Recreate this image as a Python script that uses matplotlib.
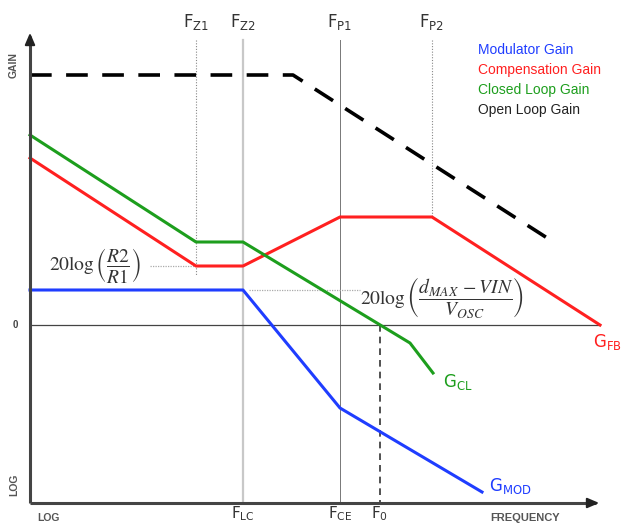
import numpy as np
import matplotlib
matplotlib.use("Agg")
import matplotlib.pyplot as plt

# frequency positions (log-scale units along the x axis) and gains (arbitrary dB units)
f_z1, f_z2, f_p1, f_p2 = 166, 213, 310, 402
f_lc, f_ce, f_0 = 213, 310, 350

open_x = [0, 263, 525]
open_gain = [250, 250, 82]

closed_x = [0, 166, 213, 380, 403]
closed_gain = [190, 83, 83, -18, -48]

comp_x = [0, 166, 213, 310, 402, 570]
comp_gain = [167, 59, 59, 108, 108, 0]

mod_x = [0, 213, 310, 452]
mod_gain = [35, 35, -83, -167]

legend_labels = ["Modulator Gain", "Compensation Gain", "Closed Loop Gain", "Open Loop Gain"]

BLUE = "#1f3dff"
RED = "#ff2020"
GREEN = "#1d9e1d"

plt.rcParams["font.family"] = ["Liberation Sans", "DejaVu Sans"]

fig = plt.figure(figsize=(6.37, 5.27), dpi=100)
ax = fig.add_axes([0, 0, 1, 1])
ax.set_xlim(-30, 607)
ax.set_ylim(-202, 325)
ax.axis("off")

y_bot, y_top = -178, 295
x_end = 572

# reference verticals
ax.plot([f_z1, f_z1], [y_top - 10, 49], color="#888888", lw=0.8, ls=(0, (1, 1.5)))
ax.plot([f_z2, f_z2], [y_top - 10, y_bot], color="#c8c8c8", lw=1.6)
ax.plot([f_p1, f_p1], [y_top - 10, y_bot], color="#777777", lw=0.7)
ax.plot([f_p2, f_p2], [y_top - 10, 107], color="#888888", lw=0.8, ls=(0, (1, 1.5)))
ax.plot([f_0, f_0], [0, y_bot], color="#333333", lw=1.2, ls=(0, (4, 3)))

# zero line
ax.plot([0, x_end - 2], [0, 0], color="#444444", lw=0.9)

# dotted guide lines
ax.plot([120, f_z1], [59, 59], color="#aaaaaa", lw=0.9, ls=(0, (1, 1)))
ax.plot([f_z2 + 6, 330], [35, 35], color="#aaaaaa", lw=0.9, ls=(0, (1, 1)))

# curves
ax.plot(open_x, open_gain, color="black", lw=2.6, ls=(0, (6, 4)))
ax.plot(comp_x, comp_gain, color=RED, lw=2.2)
ax.plot(closed_x, closed_gain, color=GREEN, lw=2.2)
ax.plot(mod_x, mod_gain, color=BLUE, lw=2.2)

# axes with arrows
ax.plot([0, 0], [y_bot, y_top - 6], color="#444444", lw=2.2, solid_capstyle="butt")
ax.plot([0, x_end - 6], [y_bot, y_bot], color="#444444", lw=2.2, solid_capstyle="butt")
ax.annotate("", xy=(0, y_top), xytext=(0, y_top - 12),
            arrowprops=dict(arrowstyle="-|>,head_width=0.3,head_length=0.7", color="#222222", lw=1.5))
ax.annotate("", xy=(x_end, y_bot), xytext=(x_end - 12, y_bot),
            arrowprops=dict(arrowstyle="-|>,head_width=0.3,head_length=0.7", color="#222222", lw=1.5))

# axis words
ax.text(-16, 260, "GAIN", rotation=90, ha="center", va="center", fontsize=7.5, fontweight="bold", color="#555555")
ax.text(-16, -160, "LOG", rotation=90, ha="center", va="center", fontsize=7.5, fontweight="bold", color="#555555")
ax.text(18, -193, "LOG", ha="center", va="center", fontsize=7.5, fontweight="bold", color="#555555")
ax.text(495, -193, "FREQUENCY", ha="center", va="center", fontsize=8, fontweight="bold", color="#555555")
ax.text(-15, 0, "0", ha="center", va="center", fontsize=7, fontweight="bold", color="#444444")


def flabel(x, y, sub, color="#333333", size=12, ha="center"):
    ax.text(x, y, r"$\mathsf{F}_{\mathsf{%s}}$" % sub, ha=ha, va="center", fontsize=size,
            color=color, math_fontfamily="dejavusans")


flabel(f_z1, 303, "Z1")
flabel(f_z2, 303, "Z2")
flabel(f_p1, 303, "P1")
flabel(f_p2, 303, "P2")
flabel(f_lc, -189, "LC", size=11)
flabel(f_ce, -189, "CE", size=11)
flabel(f_0, -189, "0", size=11)

# curve names
ax.text(577, -17, r"$\mathsf{G}_{\mathsf{FB}}$", color=RED, fontsize=12, ha="center", va="center",
        math_fontfamily="dejavusans")
ax.text(428, -57, r"$\mathsf{G}_{\mathsf{CL}}$", color=GREEN, fontsize=12, ha="center", va="center",
        math_fontfamily="dejavusans")
ax.text(480, -161, r"$\mathsf{G}_{\mathsf{MOD}}$", color=BLUE, fontsize=12, ha="center", va="center",
        math_fontfamily="dejavusans")

# formulas
ax.text(19, 59, r"$20\log\left(\dfrac{R2}{R1}\right)$", fontsize=14, color="#333333",
        ha="left", va="center", math_fontfamily="stix")
ax.text(330, 27, r"$20\log\left(\dfrac{d_{MAX}\,-VIN}{V_{OSC}}\right)$", fontsize=14, color="#333333",
        ha="left", va="center", math_fontfamily="stix")

# legend as coloured text
for i, (lab, col) in enumerate(zip(legend_labels, [BLUE, RED, GREEN, "#222222"])):
    ax.text(448, 275 - 20 * i, lab, color=col, fontsize=10, ha="left", va="center")

fig.savefig("out.png", dpi=100)
